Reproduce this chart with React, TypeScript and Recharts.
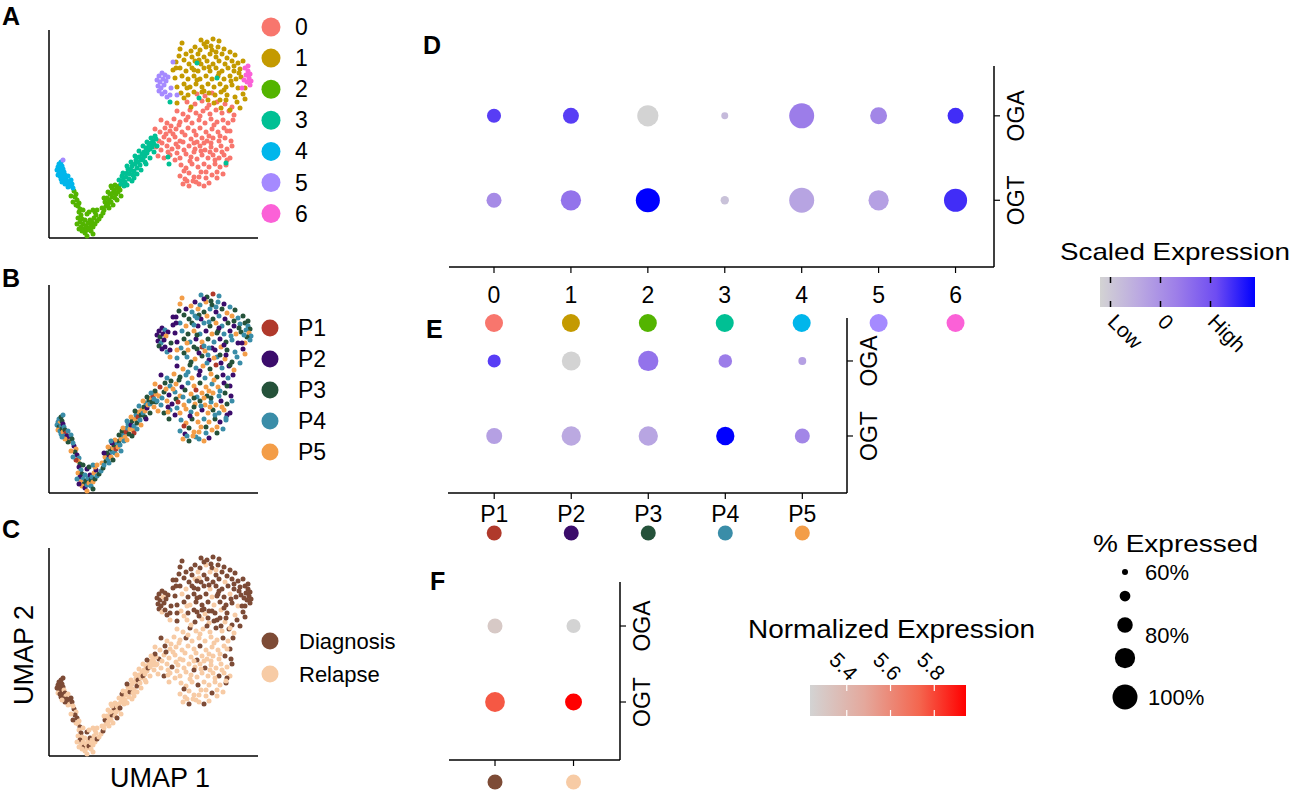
import React from "react";
import { ScatterChart, Scatter, XAxis, YAxis } from "recharts";

const FONT = "'Liberation Sans', Arial, Helvetica, sans-serif";

// UMAP embedding, one tuple per cell: [UMAP 1, UMAP 2, patient (1-5), sample (0 = Diagnosis, 1 = Relapse)]
const cluster0 = [
  [148, 144, 3, 0], [156, 142, 5, 1], [163, 145, 2, 0],
  [138, 136, 4, 1], [146, 134, 5, 0], [153, 137, 3, 1], [160, 133, 2, 1], [168, 136, 4, 0], [176, 134, 5, 1], [183, 131, 3, 0],
  [128, 127, 2, 1], [134, 124, 5, 1], [141, 128, 3, 0], [147, 125, 4, 1], [154, 127, 5, 1], [161, 124, 3, 1], [167, 128, 1, 0],
  [173, 125, 4, 1], [180, 127, 2, 0], [185, 123, 5, 1],
  [112, 118, 2, 0], [118, 115, 4, 1], [125, 119, 5, 1], [131, 116, 3, 1], [137, 118, 4, 0], [143, 115, 5, 1], [150, 118, 2, 1],
  [156, 115, 4, 1], [162, 119, 5, 1], [168, 116, 3, 1], [174, 118, 2, 0], [179, 115, 4, 1], [184, 118, 2, 0], [122, 112, 3, 1],
  [106, 109, 5, 1], [111, 106, 1, 1], [116, 110, 3, 0], [121, 107, 4, 1], [127, 109, 5, 1], [133, 106, 2, 1], [139, 110, 4, 1],
  [145, 107, 5, 1], [151, 110, 3, 0], [157, 106, 5, 1], [163, 109, 4, 1], [169, 106, 5, 1], [175, 110, 2, 1], [181, 107, 2, 0],
  [136, 103, 3, 1], [160, 102, 5, 1],
  [105, 100, 4, 1], [110, 97, 5, 0], [115, 101, 3, 1], [120, 98, 2, 1], [126, 101, 4, 1], [131, 97, 5, 1], [142, 99, 5, 1],
  [148, 96, 4, 0], [153, 100, 5, 1], [158, 97, 3, 1], [164, 100, 5, 1], [170, 97, 4, 1], [176, 100, 3, 0], [182, 97, 2, 0],
  [147, 103, 1, 1], [127, 94, 3, 1],
  [107, 91, 3, 1], [112, 88, 4, 1], [118, 92, 5, 1], [123, 89, 2, 0], [129, 91, 1, 1], [135, 88, 5, 1], [140, 92, 4, 1],
  [146, 89, 5, 1], [151, 92, 3, 1], [156, 88, 5, 0], [162, 91, 4, 1], [167, 88, 5, 1], [172, 92, 2, 1], [178, 89, 3, 1],
  [183, 92, 4, 0], [137, 84, 5, 1],
  [109, 82, 5, 1], [115, 80, 3, 0], [121, 83, 4, 1], [131, 80, 5, 1], [142, 81, 4, 1], [148, 79, 5, 1], [153, 83, 2, 1],
  [159, 80, 5, 1], [164, 83, 3, 1], [170, 80, 4, 0], [175, 83, 5, 1], [181, 80, 2, 1], [126, 78, 2, 1], [161, 86, 5, 1],
  [145, 86, 3, 0],
  [132, 73, 4, 1], [137, 70, 5, 1], [143, 74, 3, 1], [149, 71, 5, 0], [155, 74, 4, 1], [160, 71, 5, 1], [166, 74, 3, 1],
  [171, 71, 2, 1], [177, 73, 4, 0], [152, 66, 5, 1], [140, 65, 3, 1],
  [131, 62, 4, 1], [136, 59, 2, 1], [145, 61, 5, 1], [157, 60, 4, 1], [163, 63, 5, 0], [168, 60, 3, 1], [174, 64, 4, 1],
  [135, 67, 1, 0], [147, 56, 4, 1],
  [134, 54, 5, 1], [140, 52, 3, 0], [150, 54, 4, 1], [155, 52, 5, 0], [160, 55, 2, 1], [144, 57, 5, 1],
  [113, 95, 4, 1], [119, 86, 2, 1], [124, 104, 5, 1], [130, 113, 3, 1], [139, 121, 4, 1], [151, 122, 2, 1], [158, 130, 4, 0],
  [165, 113, 5, 1], [171, 102, 4, 1], [178, 107, 3, 1], [173, 86, 5, 1], [166, 78, 4, 1], [157, 66, 3, 1], [150, 61, 5, 1],
  [141, 77, 2, 1], [134, 96, 4, 1], [155, 95, 5, 1], [162, 95, 3, 1], [178, 78, 2, 0], [138, 57, 4, 1], [168, 66, 5, 1],
  [128, 85, 4, 1], [117, 104, 5, 0], [145, 95, 3, 1], [152, 87, 4, 1],
];

const cluster1 = [
  [133, 195, 5, 0], [152, 198, 4, 0], [158, 196, 3, 0], [164, 199, 1, 0], [170, 197, 4, 0],
  [131, 189, 5, 0], [146, 191, 2, 0], [151, 188, 4, 0], [157, 191, 5, 1], [163, 188, 3, 0], [169, 191, 4, 0], [175, 189, 2, 0],
  [130, 182, 3, 0], [137, 184, 2, 0], [143, 181, 4, 0], [149, 184, 5, 1], [155, 181, 3, 0], [161, 184, 4, 1], [167, 181, 2, 0],
  [173, 184, 3, 0], [181, 186, 4, 0], [186, 183, 3, 0],
  [127, 176, 2, 0], [140, 174, 3, 0], [146, 177, 4, 1], [152, 174, 2, 0], [158, 177, 5, 0], [164, 174, 3, 0], [170, 177, 4, 0],
  [176, 174, 2, 1], [183, 177, 5, 0], [189, 175, 4, 0], [194, 177, 3, 0],
  [124, 168, 2, 0], [131, 170, 4, 0], [137, 167, 5, 1], [143, 170, 3, 0], [149, 167, 2, 0], [155, 170, 4, 0], [161, 167, 3, 1],
  [167, 170, 5, 0], [173, 167, 4, 0], [179, 170, 3, 0], [185, 167, 2, 0], [191, 169, 4, 0],
  [126, 160, 2, 0], [133, 162, 4, 1], [139, 159, 3, 0], [145, 162, 5, 0], [151, 159, 4, 0], [157, 162, 2, 0], [163, 159, 5, 1],
  [169, 162, 3, 0], [175, 159, 4, 0], [181, 162, 2, 1], [187, 159, 5, 0], [192, 161, 3, 0],
  [128, 151, 2, 0], [135, 154, 3, 0], [141, 151, 4, 1], [147, 154, 2, 0], [153, 151, 5, 0], [159, 154, 3, 0], [165, 151, 4, 1],
  [171, 154, 2, 0], [177, 151, 3, 0], [183, 153, 4, 0], [189, 150, 2, 1],
  [132, 145, 4, 1], [139, 143, 5, 0], [145, 146, 3, 0], [160, 145, 4, 0], [166, 143, 2, 0], [172, 146, 5, 1], [178, 143, 3, 0],
  [186, 141, 4, 1], [194, 144, 2, 0],
  [142, 131, 3, 1], [159, 138, 4, 0], [165, 135, 5, 0], [171, 138, 3, 0], [177, 138, 2, 0], [188, 136, 4, 0], [196, 139, 5, 0],
  [181, 128, 3, 1], [172, 130, 2, 0], [153, 146, 1, 0], [128, 135, 4, 0], [191, 130, 4, 0],
  [135, 178, 3, 0], [142, 187, 5, 0], [155, 194, 2, 0], [167, 186, 4, 1], [178, 180, 5, 0], [185, 172, 3, 0], [170, 165, 2, 0],
  [160, 171, 4, 0], [148, 158, 3, 0], [138, 150, 5, 1], [155, 147, 4, 0], [175, 148, 2, 0], [182, 157, 4, 0], [190, 165, 3, 0],
  [196, 150, 5, 0], [162, 192, 3, 0], [145, 168, 4, 0], [150, 178, 3, 1], [127, 170, 2, 0], [135, 140, 3, 1],
];

const cluster2 = [
  [25, 47, 2, 0], [27, 44, 5, 1], [26, 41, 3, 0], [28, 38, 2, 0], [30, 35, 4, 1], [29, 32, 5, 1], [31, 29, 3, 0], [27, 33, 1, 1],
  [30, 26, 2, 1], [32, 23, 4, 0], [29, 20, 5, 1], [33, 19, 3, 1], [31, 16, 2, 0], [34, 14, 4, 1], [32, 11, 5, 1], [35, 9, 3, 0],
  [33, 7, 5, 1], [36, 5, 2, 1], [38, 8, 4, 1], [37, 12, 3, 1], [40, 10, 5, 0], [39, 15, 4, 1], [42, 13, 3, 1], [41, 18, 2, 0],
  [44, 11, 5, 1], [43, 16, 4, 1], [46, 14, 3, 1], [45, 20, 5, 1], [48, 17, 4, 0], [47, 23, 2, 1], [50, 19, 3, 1], [36, 18, 4, 1],
  [38, 24, 2, 0], [34, 28, 3, 1], [42, 7, 4, 1], [46, 26, 5, 1], [52, 22, 4, 1], [54, 25, 3, 0],
  [53, 30, 5, 1], [55, 28, 4, 1], [57, 32, 3, 1], [56, 36, 5, 0], [59, 34, 4, 1], [60, 38, 2, 1], [58, 40, 3, 1], [62, 36, 5, 1],
  [63, 41, 4, 0], [61, 44, 3, 1], [64, 45, 5, 1], [66, 40, 4, 1], [65, 48, 3, 0], [67, 44, 1, 1], [68, 50, 4, 1], [69, 46, 5, 1],
  [70, 52, 3, 1], [71, 48, 4, 0], [66, 53, 5, 1], [63, 50, 2, 1],
  [60, 30, 4, 1], [64, 33, 3, 1], [68, 38, 5, 0], [72, 42, 4, 1], [55, 40, 2, 1], [59, 46, 5, 1], [62, 52, 4, 1], [40, 26, 3, 1],
  [44, 28, 4, 1], [48, 28, 5, 1], [28, 14, 4, 1], [30, 9, 2, 1], [38, 2, 5, 1], [44, 4, 3, 1], [24, 36, 4, 0], [22, 42, 5, 1],
];

const cluster3 = [
  [72, 54, 5, 1], [74, 58, 4, 1], [73, 62, 3, 0], [76, 56, 5, 1], [77, 61, 1, 1], [78, 65, 4, 1], [80, 59, 3, 1], [81, 64, 5, 0],
  [79, 69, 4, 1], [82, 68, 2, 1], [84, 63, 5, 1], [83, 72, 3, 1], [85, 67, 4, 1], [86, 74, 5, 1], [88, 70, 3, 0], [87, 78, 4, 1],
  [89, 76, 1, 0], [90, 81, 5, 1], [91, 73, 4, 1], [92, 78, 3, 1], [93, 84, 5, 1], [94, 80, 4, 0], [95, 86, 3, 1], [96, 82, 5, 1],
  [97, 90, 4, 1], [98, 85, 2, 1], [99, 88, 5, 0], [100, 93, 3, 1], [101, 89, 4, 1], [102, 95, 5, 1], [103, 91, 3, 1],
  [104, 97, 1, 1], [105, 94, 4, 1], [107, 99, 5, 1], [106, 102, 3, 0], [75, 52, 4, 1], [85, 60, 1, 1], [96, 76, 3, 1],
  [70, 58, 3, 1], [74, 65, 5, 1], [78, 72, 4, 0], [82, 76, 5, 1], [86, 82, 3, 1], [90, 87, 4, 1], [94, 92, 5, 1], [98, 96, 3, 0],
  [102, 100, 4, 1], [78, 53, 5, 1], [83, 57, 3, 1], [88, 64, 4, 1], [92, 68, 5, 1], [97, 74, 2, 1], [101, 80, 3, 1],
  [105, 86, 5, 1], [108, 92, 4, 1],
  [148, 175, 4, 0], [168, 160, 3, 0], [121, 136, 5, 1], [150, 140, 2, 0], [177, 75, 4, 1], [119, 81, 5, 1], [120, 74, 3, 1],
];

const cluster4 = [
  [10, 74, 4, 0], [12, 76, 3, 0], [9, 71, 4, 0], [11, 70, 5, 0], [13, 72, 3, 0], [8, 68, 4, 0], [10, 66, 3, 0], [12, 67, 4, 0],
  [14, 69, 2, 0], [9, 63, 5, 1], [11, 62, 4, 0], [13, 64, 3, 0], [15, 66, 4, 1], [12, 59, 4, 0], [14, 61, 5, 0], [16, 63, 3, 0],
  [17, 60, 1, 1], [15, 57, 4, 0], [18, 57, 2, 0], [19, 62, 4, 1], [20, 55, 2, 0], [22, 58, 4, 0], [21, 52, 5, 1], [23, 54, 3, 0],
  [24, 50, 4, 1], [19, 51, 3, 1], [16, 54, 5, 0], [13, 56, 4, 1],
];

const cluster5 = [
  [110, 162, 2, 0], [113, 165, 2, 0], [116, 163, 4, 0], [119, 161, 2, 0], [108, 158, 2, 0], [111, 156, 3, 0], [114, 159, 2, 1],
  [117, 157, 5, 0], [109, 152, 2, 0], [112, 150, 4, 0], [115, 153, 2, 0], [110, 147, 3, 0], [113, 144, 2, 1], [116, 146, 2, 0],
  [118, 141, 4, 0], [121, 143, 2, 0], [122, 150, 3, 0], [124, 176, 2, 0], [128, 143, 5, 0], [14, 78, 4, 0],
];

const cluster6 = [
  [196, 170, 3, 0], [199, 167, 4, 0], [201, 164, 3, 0], [197, 163, 4, 0], [200, 160, 5, 0], [202, 157, 4, 0], [198, 156, 3, 0],
  [201, 153, 4, 0], [195, 158, 4, 0], [199, 172, 3, 0], [193, 150, 2, 0],
];

const clusterLabels = ["0", "1", "2", "3", "4", "5", "6"];
const clusterColors = ["#F8766D", "#C49A00", "#53B400", "#00C094", "#00B6EB", "#A58AFF", "#FB61D7"];
const patientLabels = ["P1", "P2", "P3", "P4", "P5"];
const patientColors = ["#B0392B", "#3B0C6B", "#25523A", "#3A8DA8", "#F39D48"];
const sampleLabels = ["Diagnosis", "Relapse"];
const sampleColors = ["#7D4B36", "#F7CBA5"];

const umapXTicks = [58, 131, 202];
const umapYTicks = [5, 58, 111, 165];

// dot plot D: clusters
const dPctOGA = [77, 81, 92, 62, 100, 83, 81];
const dPctOGT = [79, 90, 98, 65, 100, 90, 96];
const dExpOGA = [1.27, 1.27, -1.21, -0.75, 0.34, 0.19, 1.43];
const dExpOGT = [0.09, 0.5, 1.89, -0.9, -0.34, -0.28, 1.43];

// dot plot E: patients
const ePctOGA = [75, 87, 90, 76, 64];
const ePctOGT = [81, 88, 88, 86, 79];
const eExpOGA = [1.27, -1.21, 0.5, 0.34, -0.28];
const eExpOGT = [-0.28, -0.43, -0.37, 1.89, 0.18];

// dot plot F: samples
const fPctOGA = [79, 77];
const fPctOGT = [89, 83];
const fExpOGA = [5.29, 5.232];
const fExpOGT = [5.76, 5.945];

const geneLabels: Record<number, string> = { 1: "OGT", 2: "OGA" };

const scaledDomain = [-1.21, 1.89];
const scaledTicks = [-1, 0, 1];
const scaledTickLabels = ["Low", "0", "High"];
const scaledStops: [number, string][] = [
  [0, "#D3D3D3"], [0.25, "#BBA9E1"], [0.5, "#9C7DE9"], [0.75, "#6E4CF2"], [1, "#0000FF"],
];
const normDomain = [5.232, 5.945];
const normTicks = [5.4, 5.6, 5.8];
const normStops: [number, string][] = [
  [0, "#D3D3D3"], [0.35, "#E4A89C"], [0.7, "#F4664F"], [1, "#FF0000"],
];
const sizeLegendPct = [60, 70, 80, 90, 100];
const sizeLegendLabels = ["60%", "", "80%", "", "100%"];

type UmapCell = { u1: number; u2: number; cluster: number; patient: number; sample: number };

const cells: UmapCell[] = [cluster0, cluster1, cluster2, cluster3, cluster4, cluster5, cluster6].flatMap((list, k) =>
  list.map(([u1, u2, p, s]) => ({ u1, u2, cluster: k, patient: p - 1, sample: s }))
);

const hexToRgb = (h: string) => [1, 3, 5].map((i) => parseInt(h.slice(i, i + 2), 16));

function gradientColor(stops: [number, string][], domain: number[], v: number) {
  const t = Math.max(0, Math.min(1, (v - domain[0]) / (domain[1] - domain[0])));
  for (let i = 1; i < stops.length; i++) {
    if (t <= stops[i][0]) {
      const [t0, c0] = stops[i - 1];
      const [t1, c1] = stops[i];
      const f = (t - t0) / (t1 - t0);
      const a = hexToRgb(c0);
      const b = hexToRgb(c1);
      return `rgb(${a.map((x, j) => Math.round(x + (b[j] - x) * f)).join(",")})`;
    }
  }
  return stops[stops.length - 1][1];
}

// radius scale of "% Expressed"
const radiusOf = (pct: number) => 3 + (pct - 60) * 0.2375;

const axisStyle = { stroke: "#000", strokeWidth: 1.5 };

function UmapPanel({ top, colorOf }: { top: number; colorOf: (c: UmapCell) => string }) {
  return (
    <div style={{ position: "absolute", left: 0, top }}>
      <ScatterChart width={262} height={250} margin={{ top: 30, right: 4, bottom: 2, left: 39 }}>
        <XAxis type="number" dataKey="u1" domain={[0, 209]} ticks={umapXTicks} tick={false} tickSize={4}
          height={10} axisLine={axisStyle} tickLine={{ stroke: "#000" }} />
        <YAxis type="number" dataKey="u2" domain={[0, 208]} ticks={umapYTicks} tick={false} tickSize={4}
          width={10} axisLine={axisStyle} tickLine={{ stroke: "#000" }} />
        <Scatter data={cells} isAnimationActive={false}
          shape={(p: any) => <circle cx={p.cx} cy={p.cy} r={2.5} fill={colorOf(p.payload)} />} />
      </ScatterChart>
    </div>
  );
}

function geneTick(dx: number) {
  return (p: any) => {
    const x = p.x + dx;
    return (
      <text x={x} y={p.y} transform={`rotate(-90 ${x} ${p.y})`} textAnchor="middle" dominantBaseline="central"
        fontSize={23} fontFamily={FONT} fill="#000">
        {geneLabels[p.payload.value]}
      </text>
    );
  };
}

function categoryTick(labels: string[] | null, colors: string[], labelDy: number, dotDy: number, dotR: number) {
  return (p: any) => (
    <g>
      {labels && (
        <text x={p.x} y={p.y + labelDy} textAnchor="middle" fontSize={23} fontFamily={FONT} fill="#000">
          {labels[p.payload.value]}
        </text>
      )}
      <circle cx={p.x} cy={p.y + dotDy} r={dotR} fill={colors[p.payload.value]} />
    </g>
  );
}

function DotPlot(props: any) {
  const { left, top, width, height, margin, xDomain, yDomain, nCat, data, colorOf, xAxisHeight, xTick } = props;
  const ticks = Array.from({ length: nCat }, (_, i) => i);
  return (
    <div style={{ position: "absolute", left, top }}>
      <ScatterChart width={width} height={height} margin={margin}>
        <XAxis type="number" dataKey="x" domain={xDomain} ticks={ticks} tick={xTick} tickSize={6} tickMargin={0}
          height={xAxisHeight} axisLine={axisStyle} tickLine={{ stroke: "#000", strokeWidth: 1.2 }} />
        <YAxis type="number" dataKey="y" orientation="right" domain={yDomain} ticks={[1, 2]} tick={geneTick(16)}
          tickSize={6} tickMargin={0} width={40} axisLine={axisStyle} tickLine={{ stroke: "#000", strokeWidth: 1.2 }} />
        <Scatter data={data} isAnimationActive={false}
          shape={(p: any) => <circle cx={p.cx} cy={p.cy} r={radiusOf(p.payload.pct)} fill={colorOf(p.payload.v)} />} />
      </ScatterChart>
    </div>
  );
}

const rowsFor = (n: number, pctOGA: number[], pctOGT: number[], expOGA: number[], expOGT: number[]) =>
  Array.from({ length: n }, (_, i) => [
    { x: i, y: 2, pct: pctOGA[i], v: expOGA[i] },
    { x: i, y: 1, pct: pctOGT[i], v: expOGT[i] },
  ]).flat();

const scaledColor = (v: number) => gradientColor(scaledStops, scaledDomain, v);
const normColor = (v: number) => gradientColor(normStops, normDomain, v);

function Legends() {
  const scaledX = (v: number) => 1100 + ((v - scaledDomain[0]) / (scaledDomain[1] - scaledDomain[0])) * 155;
  const normX = (v: number) => 810 + ((v - normDomain[0]) / (normDomain[1] - normDomain[0])) * 156;
  const sizeY = [572, 596, 625, 658, 697];
  const labelY = [580, 0, 643, 0, 705];
  return (
    <svg width={1292} height={796} style={{ position: "absolute", left: 0, top: 0 }} fontFamily={FONT}>
      <defs>
        <linearGradient id="scaledGrad" x1="0" x2="1" y1="0" y2="0">
          {scaledStops.map(([t, c]) => <stop key={t} offset={t} stopColor={c} />)}
        </linearGradient>
        <linearGradient id="normGrad" x1="0" x2="1" y1="0" y2="0">
          {normStops.map(([t, c]) => <stop key={t} offset={t} stopColor={c} />)}
        </linearGradient>
      </defs>

      {[["A", 2, 25], ["B", 2, 287], ["C", 2, 538], ["D", 423, 54], ["E", 426, 338], ["F", 430, 590]].map(([t, x, y]) => (
        <text key={t as string} x={x} y={y} fontSize={25} fontWeight="bold">{t}</text>
      ))}

      {clusterLabels.map((l, i) => (
        <g key={l}>
          <circle cx={271} cy={27 + i * 31.1} r={9.5} fill={clusterColors[i]} />
          <text x={295} y={27 + i * 31.1 + 8} fontSize={23}>{l}</text>
        </g>
      ))}
      {patientLabels.map((l, i) => (
        <g key={l}>
          <circle cx={270} cy={328 + i * 31} r={8.5} fill={patientColors[i]} />
          <text x={298} y={328 + i * 31 + 8} fontSize={23}>{l}</text>
        </g>
      ))}
      {sampleLabels.map((l, i) => (
        <g key={l}>
          <circle cx={270} cy={641 + i * 33} r={8.5} fill={sampleColors[i]} />
          <text x={299} y={641 + i * 33 + 8} fontSize={22}>{l}</text>
        </g>
      ))}

      <text x={160} y={787} fontSize={27} textAnchor="middle">UMAP 1</text>
      <text x={33} y={655} fontSize={27} textAnchor="middle" transform="rotate(-90 33 655)">UMAP 2</text>

      <text x={1060} y={260} fontSize={24} textLength={230} lengthAdjust="spacingAndGlyphs">Scaled Expression</text>
      <rect x={1100} y={277} width={155} height={30} fill="url(#scaledGrad)" />
      {scaledTicks.map((v, i) => {
        const x = scaledX(v);
        return (
          <g key={v}>
            <line x1={x} x2={x} y1={277} y2={283} stroke="#000" strokeWidth={1.5} />
            <line x1={x} x2={x} y1={301} y2={307} stroke="#000" strokeWidth={1.5} />
            <text x={x - 4} y={323} fontSize={21} transform={`rotate(45 ${x - 4} 323)`}>{scaledTickLabels[i]}</text>
          </g>
        );
      })}

      <text x={748} y={638} fontSize={25} textLength={287} lengthAdjust="spacingAndGlyphs">Normalized Expression</text>
      <rect x={810} y={685} width={156} height={31} fill="url(#normGrad)" />
      {normTicks.map((v) => {
        const x = normX(v);
        return (
          <g key={v}>
            <line x1={x} x2={x} y1={685} y2={691} stroke="#fff" strokeWidth={1.2} />
            <line x1={x} x2={x} y1={710} y2={716} stroke="#fff" strokeWidth={1.2} />
            <text x={x + 2} y={682} fontSize={21} textAnchor="end" transform={`rotate(45 ${x + 2} 682)`}>{v.toFixed(1)}</text>
          </g>
        );
      })}

      <text x={1093} y={552} fontSize={24} textLength={165} lengthAdjust="spacingAndGlyphs">% Expressed</text>
      {sizeLegendPct.map((p, i) => (
        <g key={p}>
          <circle cx={1125} cy={sizeY[i]} r={radiusOf(p)} fill="#000" />
          {sizeLegendLabels[i] && (
            <text x={i === 4 ? 1148 : 1145} y={labelY[i]} fontSize={22}>{sizeLegendLabels[i]}</text>
          )}
        </g>
      ))}
    </svg>
  );
}

export default function App() {
  return (
    <div style={{ position: "absolute", left: 0, top: 0, width: 1292, height: 796, background: "#fff", fontFamily: FONT }}>
      <Legends />
      <UmapPanel top={0} colorOf={(c) => clusterColors[c.cluster]} />
      <UmapPanel top={255} colorOf={(c) => patientColors[c.patient]} />
      <UmapPanel top={518} colorOf={(c) => sampleColors[c.sample]} />

      <DotPlot left={400} top={40} width={660} height={300} margin={{ top: 26, right: 26, bottom: 13, left: 49 }}
        xDomain={[-0.585, 6.5]} yDomain={[0.21, 2.59]} nCat={7} xAxisHeight={60}
        data={rowsFor(7, dPctOGA, dPctOGT, dExpOGA, dExpOGT)} colorOf={scaledColor}
        xTick={categoryTick(clusterLabels, clusterColors, 30, 50, 9)} />

      <DotPlot left={400} top={290} width={520} height={280} margin={{ top: 28, right: 33, bottom: 27, left: 48 }}
        xDomain={[-0.6, 4.58]} yDomain={[0.24, 2.573]} nCat={5} xAxisHeight={50}
        data={rowsFor(5, ePctOGA, ePctOGT, eExpOGA, eExpOGT)} colorOf={scaledColor}
        xTick={categoryTick(patientLabels, patientColors, 23, 34, 7.5)} />

      <DotPlot left={400} top={560} width={280} height={236} margin={{ top: 22, right: 20, bottom: 6, left: 49 }}
        xDomain={[-0.586, 1.592]} yDomain={[0.237, 2.579]} nCat={2} xAxisHeight={30}
        data={rowsFor(2, fPctOGA, fPctOGT, fExpOGA, fExpOGT)} colorOf={normColor}
        xTick={categoryTick(null, sampleColors, 0, 16, 7.5)} />
    </div>
  );
}
